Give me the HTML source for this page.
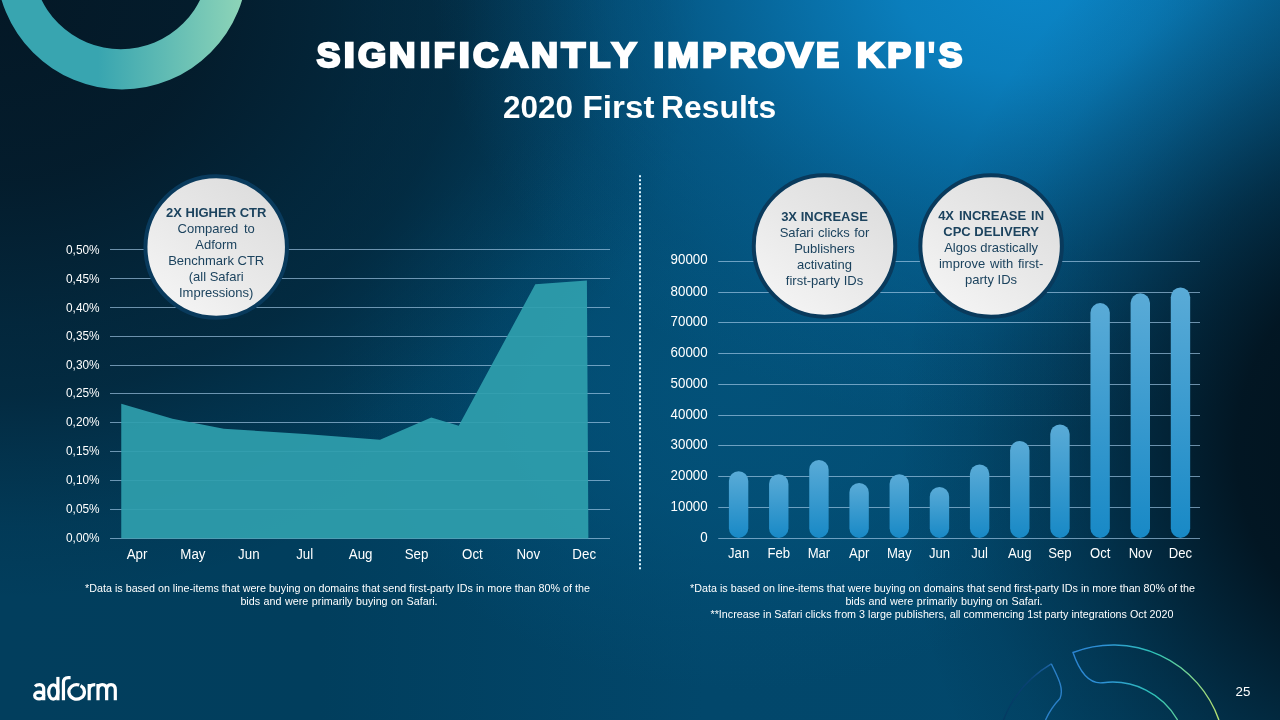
<!DOCTYPE html>
<html><head><meta charset="utf-8"><title>Significantly improve KPI's</title>
<style>
html,body{margin:0;padding:0;background:#04304c;}
body{width:1280px;height:720px;overflow:hidden;position:relative;font-family:"Liberation Sans",sans-serif;}
#bg{position:absolute;left:0;top:0;width:1280px;height:720px;
background:
radial-gradient(ellipse 480px 590px at 1380px 450px, rgba(2,17,27,0.98) 0%, rgba(2,18,29,0.92) 30%, rgba(2,19,31,0.63) 48%, rgba(2,20,33,0.43) 60%, rgba(2,20,33,0.28) 70%, rgba(2,20,33,0.1) 85%, rgba(2,20,33,0) 100%),
radial-gradient(ellipse 600px 455px at 1030px -25px, rgba(11,134,200,1) 0%, rgba(11,132,197,0.9) 22%, rgba(10,126,190,0.62) 44%, rgba(9,118,180,0.36) 62%, rgba(8,110,170,0.14) 82%, rgba(8,110,170,0) 100%),
radial-gradient(ellipse 700px 600px at 0px 0px, rgba(4,24,38,1) 0%, rgba(4,24,38,0.88) 30%, rgba(4,24,38,0.6) 54%, rgba(4,24,38,0.51) 66%, rgba(4,24,38,0.33) 75%, rgba(4,24,38,0.1) 88%, rgba(4,24,38,0) 100%),
radial-gradient(ellipse 400px 300px at 740px 390px, rgba(3,84,125,0.8) 0%, rgba(3,84,125,0.6) 40%, rgba(3,84,125,0.25) 72%, rgba(3,84,125,0) 100%),
linear-gradient(to right, #023e5d 0%, #013e5d 25%, #02476b 55%, #02486c 100%);
}
svg{position:absolute;left:0;top:0;will-change:transform;}
text{font-family:"Liberation Sans",sans-serif;}
</style></head><body>
<div id="bg"></div>
<svg width="1280" height="720" viewBox="0 0 1280 720">
<defs>
<linearGradient id="ringg" gradientUnits="userSpaceOnUse" x1="98" y1="0" x2="245" y2="0">
<stop offset="0" stop-color="#38a5b0"/><stop offset="1" stop-color="#8fd5b8"/></linearGradient>
<linearGradient id="barg" x1="0" y1="0" x2="0" y2="1">
<stop offset="0" stop-color="#5aabd7"/><stop offset="1" stop-color="#1889c6"/></linearGradient>
<linearGradient id="circg" x1="0.85" y1="0.08" x2="0.2" y2="0.95">
<stop offset="0" stop-color="#dddddd"/><stop offset="0.5" stop-color="#e8e8e8"/><stop offset="1" stop-color="#f4f4f4"/></linearGradient>
<linearGradient id="arcg" gradientUnits="userSpaceOnUse" x1="1070" y1="0" x2="1225" y2="0">
<stop offset="0" stop-color="#2b82d0"/><stop offset="0.22" stop-color="#2e92d6"/><stop offset="0.55" stop-color="#2fc3b6"/><stop offset="1" stop-color="#c4e36a"/></linearGradient>
<linearGradient id="arcg2" gradientUnits="userSpaceOnUse" x1="1000" y1="720" x2="1065" y2="660">
<stop offset="0" stop-color="#06305a" stop-opacity="0.5"/><stop offset="0.55" stop-color="#0c437a" stop-opacity="0.8"/><stop offset="1" stop-color="#2b7cc6"/></linearGradient>
</defs>

<path fill="url(#ringg)" fill-rule="evenodd" d="M-3.75,-36.2 a125.6,125.6 0 1 0 251.2,0 a125.6,125.6 0 1 0 -251.2,0 Z M32.45,-39.2 a88.35,88.35 0 1 0 176.7,0 a88.35,88.35 0 1 0 -176.7,0 Z"/>
<g font-size="35.7" font-weight="bold" fill="#fff" stroke="#fff" stroke-width="2.6" stroke-linejoin="miter" stroke-miterlimit="3"><text transform="translate(316.40,66.65) scale(0.992,1)" x="0.27" y="0">S</text><text transform="translate(345.00,66.65) scale(1.111,1)" x="-1.09" y="0">I</text><text transform="translate(358.10,66.65) scale(1.015,1)" x="-0.16" y="0">G</text><text transform="translate(390.00,66.65) scale(1.026,1)" x="-1.09" y="0">N</text><text transform="translate(420.90,66.65) scale(1.072,1)" x="-1.09" y="0">I</text><text transform="translate(434.70,66.65) scale(0.956,1)" x="-1.09" y="0">F</text><text transform="translate(460.00,66.65) scale(1.111,1)" x="-1.09" y="0">I</text><text transform="translate(473.10,66.65) scale(0.991,1)" x="-0.16" y="0">C</text><text transform="translate(500.30,66.65) scale(1.073,1)" x="0.41" y="0">A</text><text transform="translate(532.10,66.65) scale(1.047,1)" x="-1.09" y="0">N</text><text transform="translate(560.50,66.65) scale(1.084,1)" x="0.90" y="0">T</text><text transform="translate(590.00,66.65) scale(0.980,1)" x="-1.09" y="0">L</text><text transform="translate(611.10,66.65) scale(1.035,1)" x="0.69" y="0">Y</text><text transform="translate(654.70,66.65) scale(1.072,1)" x="-1.09" y="0">I</text><text transform="translate(668.30,66.65) scale(1.067,1)" x="-1.09" y="0">M</text><text transform="translate(703.40,66.65) scale(1.004,1)" x="-1.09" y="0">P</text><text transform="translate(730.60,66.65) scale(1.033,1)" x="-1.09" y="0">R</text><text transform="translate(758.00,66.65) scale(0.985,1)" x="-0.16" y="0">O</text><text transform="translate(784.70,66.65) scale(1.134,1)" x="1.06" y="0">V</text><text transform="translate(817.00,66.65) scale(0.968,1)" x="-1.09" y="0">E</text><text transform="translate(857.80,66.65) scale(1.056,1)" x="-1.09" y="0">K</text><text transform="translate(888.30,66.65) scale(1.000,1)" x="-1.09" y="0">P</text><text transform="translate(915.90,66.65) scale(1.072,1)" x="-1.09" y="0">I</text><text transform="translate(928.60,66.65) scale(0.749,1)" x="-0.60" y="0">&apos;</text><text transform="translate(938.40,66.65) scale(0.992,1)" x="0.27" y="0">S</text></g>
<g font-size="32" font-weight="bold" fill="#fff"><text transform="translate(503.0,117.6) scale(0.984,1)">2020</text><text transform="translate(582.6,117.6) scale(1.036,1)">First</text><text transform="translate(661.1,117.6) scale(0.996,1)">Results</text></g>
<line x1="640" y1="175.25" x2="640" y2="569.5" stroke="#dff6ff" stroke-width="2" stroke-dasharray="2 2"/>
<line x1="110" y1="538.5" x2="610" y2="538.5" stroke="#a9cfec" stroke-width="1" stroke-opacity="0.64"/>
<text x="99.6" y="542.10" text-anchor="end" font-size="11.85" fill="#fff">0,00%</text>
<line x1="110" y1="509.5" x2="610" y2="509.5" stroke="#a9cfec" stroke-width="1" stroke-opacity="0.64"/>
<text x="99.6" y="513.15" text-anchor="end" font-size="11.85" fill="#fff">0,05%</text>
<line x1="110" y1="480.5" x2="610" y2="480.5" stroke="#a9cfec" stroke-width="1" stroke-opacity="0.64"/>
<text x="99.6" y="484.20" text-anchor="end" font-size="11.85" fill="#fff">0,10%</text>
<line x1="110" y1="451.5" x2="610" y2="451.5" stroke="#a9cfec" stroke-width="1" stroke-opacity="0.64"/>
<text x="99.6" y="455.25" text-anchor="end" font-size="11.85" fill="#fff">0,15%</text>
<line x1="110" y1="422.5" x2="610" y2="422.5" stroke="#a9cfec" stroke-width="1" stroke-opacity="0.64"/>
<text x="99.6" y="426.30" text-anchor="end" font-size="11.85" fill="#fff">0,20%</text>
<line x1="110" y1="393.5" x2="610" y2="393.5" stroke="#a9cfec" stroke-width="1" stroke-opacity="0.64"/>
<text x="99.6" y="397.35" text-anchor="end" font-size="11.85" fill="#fff">0,25%</text>
<line x1="110" y1="365.5" x2="610" y2="365.5" stroke="#a9cfec" stroke-width="1" stroke-opacity="0.64"/>
<text x="99.6" y="369.40" text-anchor="end" font-size="11.85" fill="#fff">0,30%</text>
<line x1="110" y1="336.5" x2="610" y2="336.5" stroke="#a9cfec" stroke-width="1" stroke-opacity="0.64"/>
<text x="99.6" y="340.45" text-anchor="end" font-size="11.85" fill="#fff">0,35%</text>
<line x1="110" y1="307.5" x2="610" y2="307.5" stroke="#a9cfec" stroke-width="1" stroke-opacity="0.64"/>
<text x="99.6" y="311.50" text-anchor="end" font-size="11.85" fill="#fff">0,40%</text>
<line x1="110" y1="278.5" x2="610" y2="278.5" stroke="#a9cfec" stroke-width="1" stroke-opacity="0.64"/>
<text x="99.6" y="282.55" text-anchor="end" font-size="11.85" fill="#fff">0,45%</text>
<line x1="110" y1="249.5" x2="610" y2="249.5" stroke="#a9cfec" stroke-width="1" stroke-opacity="0.64"/>
<text x="99.6" y="253.60" text-anchor="end" font-size="11.85" fill="#fff">0,50%</text>
<polygon points="121.25,403.75 172.5,418.75 223.75,428.75 305,433.9 380,439.7 431.25,417.5 458.75,425.75 535.3,284.2 586.9,280.6 588.4,538.5 121.25,538.5" fill="#2fa0ae" fill-opacity="0.92"/>
<text transform="translate(137.00,558.9) scale(1,1.06)" text-anchor="middle" font-size="13.33" fill="#fff">Apr</text>
<text transform="translate(192.90,558.9) scale(1,1.06)" text-anchor="middle" font-size="13.33" fill="#fff">May</text>
<text transform="translate(248.80,558.9) scale(1,1.06)" text-anchor="middle" font-size="13.33" fill="#fff">Jun</text>
<text transform="translate(304.70,558.9) scale(1,1.06)" text-anchor="middle" font-size="13.33" fill="#fff">Jul</text>
<text transform="translate(360.60,558.9) scale(1,1.06)" text-anchor="middle" font-size="13.33" fill="#fff">Aug</text>
<text transform="translate(416.50,558.9) scale(1,1.06)" text-anchor="middle" font-size="13.33" fill="#fff">Sep</text>
<text transform="translate(472.40,558.9) scale(1,1.06)" text-anchor="middle" font-size="13.33" fill="#fff">Oct</text>
<text transform="translate(528.30,558.9) scale(1,1.06)" text-anchor="middle" font-size="13.33" fill="#fff">Nov</text>
<text transform="translate(584.20,558.9) scale(1,1.06)" text-anchor="middle" font-size="13.33" fill="#fff">Dec</text>
<text text-anchor="middle" font-size="10.74" fill="#fff"><tspan x="337.5" y="591.8">*Data is based on line-items that were buying on domains that send first-party IDs in more than 80% of the</tspan><tspan x="339" y="604.7" word-spacing="0.55">bids and were primarily buying on Safari.</tspan></text>
<line x1="718.25" y1="538.5" x2="1200" y2="538.5" stroke="#a9cfec" stroke-width="1" stroke-opacity="0.64"/>
<text transform="translate(707.6,542.30) scale(1,1.06)" text-anchor="end" font-size="13.33" fill="#fff">0</text>
<line x1="718.25" y1="507.5" x2="1200" y2="507.5" stroke="#a9cfec" stroke-width="1" stroke-opacity="0.64"/>
<text transform="translate(707.6,511.20) scale(1,1.06)" text-anchor="end" font-size="13.33" fill="#fff">10000</text>
<line x1="718.25" y1="476.5" x2="1200" y2="476.5" stroke="#a9cfec" stroke-width="1" stroke-opacity="0.64"/>
<text transform="translate(707.6,480.10) scale(1,1.06)" text-anchor="end" font-size="13.33" fill="#fff">20000</text>
<line x1="718.25" y1="445.5" x2="1200" y2="445.5" stroke="#a9cfec" stroke-width="1" stroke-opacity="0.64"/>
<text transform="translate(707.6,449.00) scale(1,1.06)" text-anchor="end" font-size="13.33" fill="#fff">30000</text>
<line x1="718.25" y1="415.5" x2="1200" y2="415.5" stroke="#a9cfec" stroke-width="1" stroke-opacity="0.64"/>
<text transform="translate(707.6,418.90) scale(1,1.06)" text-anchor="end" font-size="13.33" fill="#fff">40000</text>
<line x1="718.25" y1="384.5" x2="1200" y2="384.5" stroke="#a9cfec" stroke-width="1" stroke-opacity="0.64"/>
<text transform="translate(707.6,387.80) scale(1,1.06)" text-anchor="end" font-size="13.33" fill="#fff">50000</text>
<line x1="718.25" y1="353.5" x2="1200" y2="353.5" stroke="#a9cfec" stroke-width="1" stroke-opacity="0.64"/>
<text transform="translate(707.6,356.70) scale(1,1.06)" text-anchor="end" font-size="13.33" fill="#fff">60000</text>
<line x1="718.25" y1="322.5" x2="1200" y2="322.5" stroke="#a9cfec" stroke-width="1" stroke-opacity="0.64"/>
<text transform="translate(707.6,325.60) scale(1,1.06)" text-anchor="end" font-size="13.33" fill="#fff">70000</text>
<line x1="718.25" y1="292.5" x2="1200" y2="292.5" stroke="#a9cfec" stroke-width="1" stroke-opacity="0.64"/>
<text transform="translate(707.6,295.50) scale(1,1.06)" text-anchor="end" font-size="13.33" fill="#fff">80000</text>
<line x1="718.25" y1="261.5" x2="1200" y2="261.5" stroke="#a9cfec" stroke-width="1" stroke-opacity="0.64"/>
<text transform="translate(707.6,264.40) scale(1,1.06)" text-anchor="end" font-size="13.33" fill="#fff">90000</text>
<rect x="728.90" y="471.25" width="19.4" height="66.65" rx="9.7" ry="9.7" fill="url(#barg)"/>
<text transform="translate(738.60,558.1) scale(0.985,1.06)" text-anchor="middle" font-size="13.33" fill="#fff">Jan</text>
<rect x="769.07" y="474.25" width="19.4" height="63.65" rx="9.7" ry="9.7" fill="url(#barg)"/>
<text transform="translate(778.77,558.1) scale(0.985,1.06)" text-anchor="middle" font-size="13.33" fill="#fff">Feb</text>
<rect x="809.24" y="460.00" width="19.4" height="77.90" rx="9.7" ry="9.7" fill="url(#barg)"/>
<text transform="translate(818.94,558.1) scale(0.985,1.06)" text-anchor="middle" font-size="13.33" fill="#fff">Mar</text>
<rect x="849.41" y="483.00" width="19.4" height="54.90" rx="9.7" ry="9.7" fill="url(#barg)"/>
<text transform="translate(859.11,558.1) scale(0.985,1.06)" text-anchor="middle" font-size="13.33" fill="#fff">Apr</text>
<rect x="889.58" y="474.25" width="19.4" height="63.65" rx="9.7" ry="9.7" fill="url(#barg)"/>
<text transform="translate(899.28,558.1) scale(0.985,1.06)" text-anchor="middle" font-size="13.33" fill="#fff">May</text>
<rect x="929.75" y="487.00" width="19.4" height="50.90" rx="9.7" ry="9.7" fill="url(#barg)"/>
<text transform="translate(939.45,558.1) scale(0.985,1.06)" text-anchor="middle" font-size="13.33" fill="#fff">Jun</text>
<rect x="969.92" y="464.40" width="19.4" height="73.50" rx="9.7" ry="9.7" fill="url(#barg)"/>
<text transform="translate(979.62,558.1) scale(0.985,1.06)" text-anchor="middle" font-size="13.33" fill="#fff">Jul</text>
<rect x="1010.09" y="440.90" width="19.4" height="97.00" rx="9.7" ry="9.7" fill="url(#barg)"/>
<text transform="translate(1019.79,558.1) scale(0.985,1.06)" text-anchor="middle" font-size="13.33" fill="#fff">Aug</text>
<rect x="1050.26" y="424.40" width="19.4" height="113.50" rx="9.7" ry="9.7" fill="url(#barg)"/>
<text transform="translate(1059.96,558.1) scale(0.985,1.06)" text-anchor="middle" font-size="13.33" fill="#fff">Sep</text>
<rect x="1090.43" y="303.10" width="19.4" height="234.80" rx="9.7" ry="9.7" fill="url(#barg)"/>
<text transform="translate(1100.13,558.1) scale(0.985,1.06)" text-anchor="middle" font-size="13.33" fill="#fff">Oct</text>
<rect x="1130.60" y="293.30" width="19.4" height="244.60" rx="9.7" ry="9.7" fill="url(#barg)"/>
<text transform="translate(1140.30,558.1) scale(0.985,1.06)" text-anchor="middle" font-size="13.33" fill="#fff">Nov</text>
<rect x="1170.77" y="287.50" width="19.4" height="250.40" rx="9.7" ry="9.7" fill="url(#barg)"/>
<text transform="translate(1180.47,558.1) scale(0.985,1.06)" text-anchor="middle" font-size="13.33" fill="#fff">Dec</text>
<text text-anchor="middle" font-size="10.74" fill="#fff"><tspan x="942.5" y="591.7">*Data is based on line-items that were buying on domains that send first-party IDs in more than 80% of the</tspan><tspan x="944" y="605.0" word-spacing="0.55">bids and were primarily buying on Safari.</tspan><tspan x="942" y="618.3">**Increase in Safari clicks from 3 large publishers, all commencing 1st party integrations Oct 2020</tspan></text>
<circle cx="216.2" cy="247.0" r="70.75" fill="url(#circg)" stroke="#093a5c" stroke-width="4"/>
<text x="216.2" y="217" text-anchor="middle" font-size="13" font-weight="bold" word-spacing="0" fill="#1c435e">2X HIGHER CTR</text>
<text x="216.2" y="233" text-anchor="middle" font-size="13" font-weight="normal" word-spacing="2" fill="#1c435e">Compared to</text>
<text x="216.2" y="249" text-anchor="middle" font-size="13" font-weight="normal" word-spacing="0" fill="#1c435e">Adform</text>
<text x="216.2" y="265" text-anchor="middle" font-size="13" font-weight="normal" word-spacing="0" fill="#1c435e">Benchmark CTR</text>
<text x="216.2" y="281" text-anchor="middle" font-size="13" font-weight="normal" word-spacing="0" fill="#1c435e">(all Safari</text>
<text x="216.2" y="297" text-anchor="middle" font-size="13" font-weight="normal" word-spacing="0" fill="#1c435e">Impressions)</text>
<circle cx="824.5" cy="245.9" r="70.75" fill="url(#circg)" stroke="#093a5c" stroke-width="4"/>
<text x="824.5" y="220.75" text-anchor="middle" font-size="13" font-weight="bold" word-spacing="0" fill="#1c435e">3X INCREASE</text>
<text x="824.5" y="236.75" text-anchor="middle" font-size="13" font-weight="normal" word-spacing="0.8" fill="#1c435e">Safari clicks for</text>
<text x="824.5" y="253" text-anchor="middle" font-size="13" font-weight="normal" word-spacing="0" fill="#1c435e">Publishers</text>
<text x="824.5" y="269" text-anchor="middle" font-size="13" font-weight="normal" word-spacing="0" fill="#1c435e">activating</text>
<text x="824.5" y="284.75" text-anchor="middle" font-size="13" font-weight="normal" word-spacing="0" fill="#1c435e">first-party IDs</text>
<circle cx="991.1" cy="245.9" r="70.75" fill="url(#circg)" stroke="#093a5c" stroke-width="4"/>
<text x="991.1" y="219.5" text-anchor="middle" font-size="13" font-weight="bold" word-spacing="1.3" fill="#1c435e">4X INCREASE IN</text>
<text x="991.1" y="235.5" text-anchor="middle" font-size="13" font-weight="bold" word-spacing="0" fill="#1c435e">CPC DELIVERY</text>
<text x="991.1" y="251.5" text-anchor="middle" font-size="13" font-weight="normal" word-spacing="0" fill="#1c435e">Algos drastically</text>
<text x="991.1" y="267.5" text-anchor="middle" font-size="13" font-weight="normal" word-spacing="1.2" fill="#1c435e">improve with first-</text>
<text x="991.1" y="283.75" text-anchor="middle" font-size="13" font-weight="normal" word-spacing="0" fill="#1c435e">party IDs</text>
<text x="1243" y="695.8" text-anchor="middle" font-size="13.33" fill="#fff">25</text>
<path d="M1177.6,720 A75,75 0 0 0 1103,682.7 C1089,684.5 1080,673 1073,652.5 A112,112 0 0 1 1218.9,720" fill="none" stroke="url(#arcg)" stroke-width="1.4" stroke-linejoin="miter"/>
<path d="M1003.5,720 A112,112 0 0 1 1051.3,663.8" fill="none" stroke="url(#arcg2)" stroke-width="1.4"/>
<path d="M1051.3,663.8 C1057,676 1064.5,688 1060,698.5 A75,75 0 0 0 1045.5,720" fill="none" stroke="#2b80c8" stroke-width="1.4" stroke-linejoin="miter"/>
<g fill="none" stroke="#fff" stroke-width="3.2" stroke-linecap="butt" stroke-linejoin="round">
<path d="M35.0,686.3 C36.4,685.0 38,684.7 39.6,684.7 C42.6,684.7 43.7,686.8 43.7,689.6 V700.3"/>
<ellipse cx="39.15" cy="695.45" rx="4.5" ry="3.4"/>
<path d="M57.9,676.9 V700.3"/>
<ellipse cx="53.3" cy="692.0" rx="4.6" ry="7.1"/>
<path d="M63.45,700.2 V682.6 C63.45,679.2 65.4,677.6 68.2,677.6 H70.6"/>
<path d="M80.55,685.62 A7.8,7.25 0 1 1 79.32,685.09"/>
<path d="M89.2,683.9 V700.2 M89.2,689.6 C89.2,686 91.6,684.6 95.3,684.6"/>
<path d="M98,683.9 V700.2 M98,689.8 C98,686.2 100,684.6 102.3,684.6 C104.6,684.6 106.65,686.2 106.65,689.8 V700.2 M106.65,689.8 C106.65,686.2 108.7,684.6 111,684.6 C113.3,684.6 115.3,686.2 115.3,689.8 V700.2"/>
</g>
</svg></body></html>
